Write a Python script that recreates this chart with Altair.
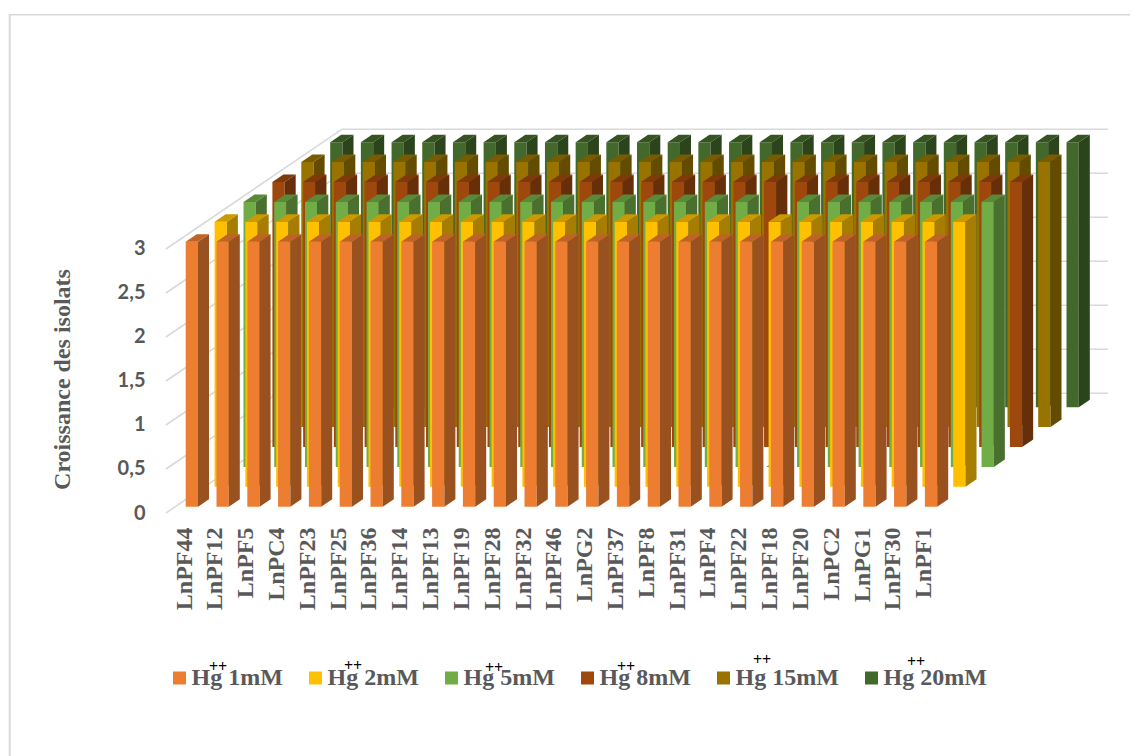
import altair as alt
import pandas as pd

categories = ["LnPF44","LnPF12","LnPF5","LnPC4","LnPF23","LnPF25","LnPF36","LnPF14","LnPF13","LnPF19","LnPF28","LnPF32","LnPF46","LnPG2","LnPF37","LnPF8","LnPF31","LnPF4","LnPF22","LnPF18","LnPF20","LnPC2","LnPG1","LnPF30","LnPF1"]
hg1  = [3,3,3,3,3,3,3,3,3,3,3,3,3,3,3,3,3,3,3,3,3,3,3,3,3]
hg2  = [3,3,3,3,3,3,3,3,3,3,3,3,3,3,3,3,3,3,3,3,3,3,3,3,3]
hg5  = [3,3,3,3,3,3,3,3,3,3,3,3,3,3,3,3,3,0,3,3,3,3,3,3,3]
hg8  = [3,3,3,3,3,3,3,3,3,3,3,3,3,3,3,3,3,3,3,3,3,3,3,3,3]
hg15 = [3,3,3,3,3,3,3,3,3,3,3,3,3,3,3,3,3,3,3,3,3,3,3,3,3]
hg20 = [3,3,3,3,3,3,3,3,3,3,3,3,3,3,3,3,3,3,3,3,3,3,3,3,3]
series_names = ["Hg 1mM","Hg 2mM","Hg 5mM","Hg 8mM","Hg 15mM","Hg 20mM"]
series_values = [hg1, hg2, hg5, hg8, hg15, hg20]
front_colors = ["#ED7D31","#FFC000","#70AD47","#9E480E","#997300","#43682B"]
side_colors  = ["#9A5120","#A67D00","#49702E","#672F09","#634B00","#2C441C"]
top_colors   = ["#BE6427","#CC9A00","#5A8A39","#7E3A0B","#7A5C00","#365322"]
grid_values = [0, 0.5, 1, 1.5, 2, 2.5, 3]

# canvas
W, H = 1122, 748
PX_U, PX_V = 30.82, 88.2      # pixels per category / per value unit
X0, Y0 = 184 - 8, 513 - 8     # plot position of u=0, v=0
def U(px): return px / PX_U
def V(px): return px / PX_V
x_scale = alt.Scale(domain=[-X0 / PX_U, (W - X0) / PX_U], range=[0, W], nice=False, zero=False)
y_scale = alt.Scale(domain=[(Y0 - H) / PX_V, Y0 / PX_V], range=[H, 0], nice=False, zero=False)

# oblique projection with a slight perspective: one series step in depth
STEP_X, STEP_Y = U(28.9), V(19.9)
PITCH_LOSS = U(0.024)
BAR_W, DEPTH_X, DEPTH_Y = U(12.3), U(11), V(7.5)
OFF_X, OFF_Y = U(1.7), V(6.3)

faces = []
for k, (name, vals) in enumerate(zip(series_names, series_values)):
    rows_front, rows_side, rows_top = [], [], []
    for i, v in enumerate(vals):
        xl = i * (U(30.8) - PITCH_LOSS * k) + OFF_X + k * STEP_X
        xr = xl + BAR_W
        yb = OFF_Y + k * STEP_Y
        yt = yb + v * 265 / 3 / PX_V
        rows_front.append(dict(series=name, x=xl, x2=xr, y=yt, y2=yb))
        for t in (0, 1):
            rows_side.append(dict(key=i, x=xr + t * DEPTH_X, y=yt + t * DEPTH_Y, y2=yb + t * DEPTH_Y))
            rows_top.append(dict(key=i, y=yt + t * DEPTH_Y, x=xl + t * DEPTH_X, x2=xr + t * DEPTH_X))
    faces.append((k, pd.DataFrame(rows_front), pd.DataFrame(rows_side), pd.DataFrame(rows_top)))

names_expr = "[" + ",".join(f"'{c}'" for c in categories) + "][datum.value]"
x_axis = alt.Axis(
    values=list(range(len(categories))), labelExpr=names_expr, title=None, grid=False, domain=False, ticks=False,
    labelAngle=-90, labelAlign="right", labelBaseline="middle", labelPadding=0, offset=-229,
    labelFont="Liberation Serif", labelFontWeight="bold", labelFontSize=24, labelColor="#595959",
    labelOverlap=False, labelFlush=False, labelBound=False)
y_axis = alt.Axis(
    values=grid_values, labelExpr="replace(format(datum.value, ''), '.', ',')", title="Croissance des isolats",
    grid=False, domain=False, ticks=False, labelPadding=3, offset=-140,
    labelFont="Lato", labelFontWeight="bold", labelFontSize=20, labelColor="#595959",
    labelOverlap=False, labelFlush=False, labelBound=False,
    titleFont="Liberation Serif", titleFontWeight="bold", titleFontSize=24, titleColor="#595959",
    titleX=-86, titleY=371, titleAngle=270, titleAlign="center", titleBaseline="middle")
X = alt.X("x:Q", scale=x_scale, axis=x_axis)
Y = alt.Y("y:Q", scale=y_scale, axis=y_axis)

# walls
WALL_X0, WALL_X1, WALL_END = U(166 - 184), U(341.7 - 184), U(1108 - 184)
WALL_DY = V(513 - 393.3)
grid = pd.DataFrame([dict(v=g, x=WALL_X0, x2=WALL_X1, y=g * 88 / PX_V, y2=g * 88 / PX_V + WALL_DY) for g in grid_values]
                    + [dict(v=g, x=WALL_X1, x2=WALL_END, y=g * 88 / PX_V + WALL_DY, y2=g * 88 / PX_V + WALL_DY) for g in grid_values])
grid_layer = alt.Chart(grid).mark_rule(color="#d9d9d9", strokeWidth=1.6).encode(x=X, x2="x2:Q", y=Y, y2="y2:Q")

# chart-area frame: top and left edges only
frame_left = alt.Chart(pd.DataFrame({"a": [0]})).mark_rule(color="#d9d9d9", strokeWidth=2).encode(
    x=alt.value(1.7), y=alt.value(6), y2=alt.value(748))
frame_top = alt.Chart(pd.DataFrame({"a": [0]})).mark_rule(color="#d9d9d9", strokeWidth=1.5).encode(
    x=alt.value(1), x2=alt.value(1122), y=alt.value(6.7))

layers = [frame_left, frame_top, grid_layer]
legend = alt.Legend(title=None, orient="none", legendX=159.5, legendY=658, direction="horizontal", columns=6,
                    symbolType="square", symbolSize=169, symbolStrokeWidth=0, symbolOpacity=1,
                    labelFont="Liberation Serif", labelFontWeight="bold", labelFontSize=24, labelColor="#595959",
                    labelOffset=0, columnPadding=20, gridAlign="each", labelLimit=300, clipHeight=24)
color_scale = alt.Scale(domain=series_names, range=front_colors)
for k, front, side, top in reversed(faces):
    layers.append(alt.Chart(front).mark_rect().encode(
        x=X, x2="x2:Q", y=Y, y2="y2:Q", color=alt.Color("series:N", scale=color_scale, legend=legend)))
    layers.append(alt.Chart(side).mark_area(color=side_colors[k]).encode(x=X, y=Y, y2="y2:Q", detail="key:N"))
    layers.append(alt.Chart(top).mark_area(color=top_colors[k], orient="horizontal").encode(x=X, x2="x2:Q", y=Y, detail="key:N"))

# superscript "++" of the legend labels
sup_x = [210, 345, 486, 618, 754, 908]
sup_y = [659, 658, 660, 659, 652, 654]
for sx, sy in zip(sup_x, sup_y):
    layers.append(alt.Chart(pd.DataFrame({"t": ["++"]})).mark_text(
        font="Liberation Serif", fontWeight="bold", fontSize=16, color="#000000", align="center", baseline="middle"
    ).encode(x=alt.value(sx), y=alt.value(sy), text="t:N"))

chart = alt.layer(*layers).resolve_scale(x="shared", y="shared").properties(
    width=W, height=H, padding=0, autosize=alt.AutoSizeParams(type="none")
).configure_view(stroke=None)

chart.save("out.html", embed_options={"renderer": "svg", "actions": False})
